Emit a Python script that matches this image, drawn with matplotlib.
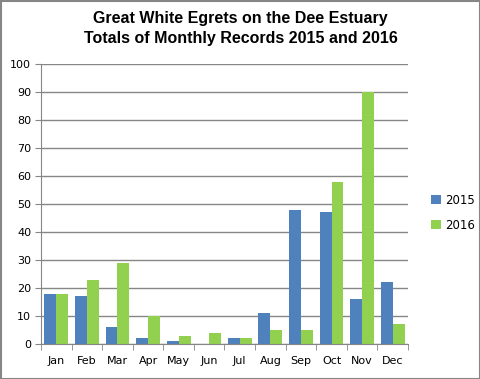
import matplotlib
matplotlib.use("Agg")
import matplotlib.pyplot as plt
import numpy as np
from matplotlib.patches import Rectangle

months = ["Jan", "Feb", "Mar", "Apr", "May", "Jun", "Jul", "Aug", "Sep", "Oct", "Nov", "Dec"]
y2015 = [18, 17, 6, 2, 1, 0, 2, 11, 48, 47, 16, 22]
y2016 = [18, 23, 29, 10, 3, 4, 2, 5, 5, 58, 90, 7]
yticks = list(range(0, 101, 10))

fig = plt.figure(figsize=(4.81, 3.79), dpi=100)
W, H = 481, 379
ax = fig.add_axes([41 / W, 1 - 344 / H, (408 - 41) / W, (344 - 64) / H])

x = np.arange(len(months))
bw = 0.39
ax.bar(x - bw / 2, y2015, bw, color="#4F81BD", label="2015")
ax.bar(x + bw / 2, y2016, bw, color="#92D050", label="2016")

ax.set_xlim(-0.5, len(months) - 0.5)
ax.set_ylim(0, 100)
ax.set_yticks(yticks)
ax.set_yticklabels([str(v) for v in yticks], fontsize=8, family="DejaVu Sans")
ax.set_xticks(x)
ax.set_xticklabels(months, fontsize=8, family="DejaVu Sans")
ax.set_xticks(np.arange(-0.5, len(months), 1), minor=True)
ax.tick_params(axis="x", which="major", length=0, pad=9)
ax.tick_params(axis="x", which="minor", length=4, color="#868686")
ax.tick_params(axis="y", length=4, color="#868686", pad=3)
ax.yaxis.grid(True, color="#868686", linewidth=1)
ax.set_axisbelow(True)
for s in ["top", "right"]:
    ax.spines[s].set_visible(False)
for s in ["left", "bottom"]:
    ax.spines[s].set_color("#868686")

ax.legend(loc="center left", bbox_to_anchor=(1.035, 0.468), frameon=False, fontsize=8.5,
          handlelength=0.8, handleheight=0.8, labelspacing=1.0, handletextpad=0.35)

fig.text(0.5, 1 - 19 / H, "Great White Egrets on the Dee Estuary", ha="center", va="center",
         fontsize=11.5, fontweight="bold", family="Liberation Sans")
fig.text(0.5, 1 - 38 / H, "Totals of Monthly Records 2015 and 2016", ha="center", va="center",
         fontsize=11.5, fontweight="bold", family="Liberation Sans")

fig.patches.append(Rectangle((0.5 / W, 0.5 / H), 1 - 1.5 / W, 1 - 1.5 / H, transform=fig.transFigure,
                             fill=False, edgecolor="#868686", linewidth=1.5))

fig.savefig("out.png", dpi=100)
